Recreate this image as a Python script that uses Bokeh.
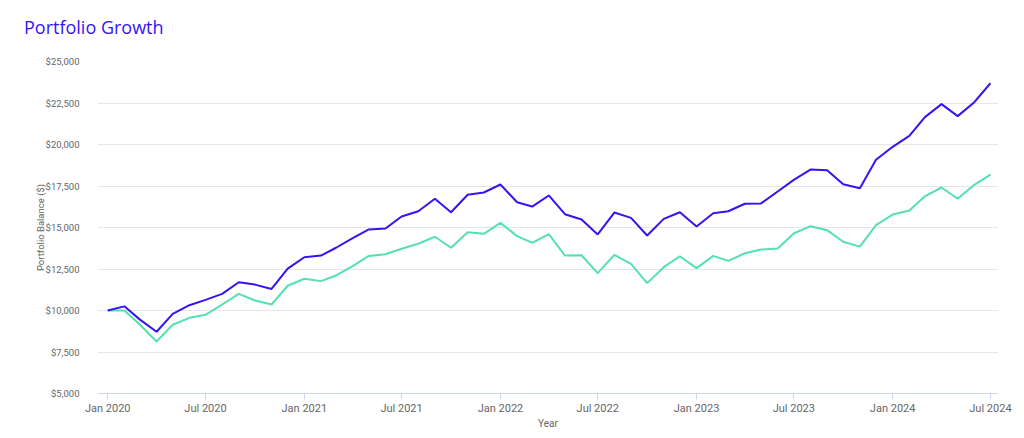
import pandas as pd
from bokeh.plotting import figure
from bokeh.layouts import column
from bokeh.models import (ColumnDataSource, NumeralTickFormatter, DatetimeTickFormatter,
                          MonthsTicker, Range1d, SingleIntervalTicker, Div)
from bokeh.embed import file_html
from bokeh.resources import INLINE

months = pd.date_range("2020-01-01", periods=55, freq="MS")

portfolio_1 = [10000, 10250, 9450, 8720, 9800, 10320, 10640, 11000, 11700, 11560,
               11300, 12520, 13210, 13310, 13780, 14360, 14880, 14940, 15660, 15980,
               16730, 15920, 16970, 17110, 17590, 16520, 16260, 16930, 15800, 15480,
               14580, 15900, 15580, 14520, 15520, 15920, 15060, 15860, 15980, 16430,
               16450, 17170, 17870, 18490, 18450, 17610, 17370, 19080, 19860, 20520,
               21650, 22430, 21710, 22550, 23690]

portfolio_2 = [10000, 10000, 9140, 8130, 9140, 9560, 9740, 10360, 11000, 10600,
               10360, 11490, 11910, 11770, 12110, 12670, 13290, 13390, 13720, 14020,
               14440, 13780, 14720, 14620, 15280, 14480, 14080, 14600, 13310, 13330,
               12250, 13350, 12810, 11650, 12610, 13270, 12550, 13290, 12990, 13450,
               13670, 13730, 14640, 15080, 14840, 14140, 13850, 15140, 15780, 16020,
               16880, 17410, 16730, 17570, 18190]

y_ticks = [5000, 7500, 10000, 12500, 15000, 17500, 20000, 22500, 25000]

src = ColumnDataSource(dict(month=months, p1=portfolio_1, p2=portfolio_2))

header = Div(
    text='<div style="margin:0;padding:15px 0 0 24px;font-family:\'Open Sans\';'
         'font-size:18px;line-height:24px;color:#3414f2;white-space:nowrap;">'
         'Portfolio Growth</div>',
    width=1024, height=40, margin=0)

p = figure(width=1024, height=398, output_backend="svg", toolbar_location=None,
           title=None, x_axis_type="datetime", margin=0,
           x_range=Range1d(pd.Timestamp("2019-12-13"), pd.Timestamp("2024-07-16")),
           y_range=Range1d(y_ticks[0], y_ticks[-1]),
           min_border_left=97, min_border_right=26, min_border_top=21, min_border_bottom=45)

p.line("month", "p2", source=src, line_color="#55e0b0", line_width=2)
p.line("month", "p1", source=src, line_color="#3414f2", line_width=2)

p.outline_line_color = None
p.background_fill_color = "white"
p.border_fill_color = "white"

p.xgrid.grid_line_color = None
p.ygrid.grid_line_color = "#e6e6e6"
p.ygrid.grid_line_width = 1

p.yaxis.ticker = SingleIntervalTicker(interval=2500)
p.yaxis.formatter = NumeralTickFormatter(format="$0,0")
p.yaxis.axis_line_color = None
p.yaxis.major_tick_line_color = None
p.yaxis.minor_tick_line_color = None
p.yaxis.major_label_standoff = 12
p.yaxis.axis_label = "Portfolio Balance ($)"
p.yaxis.axis_label_standoff = -3

p.xaxis.ticker = MonthsTicker(months=[0, 6])
p.xaxis.formatter = DatetimeTickFormatter(months="%b %Y", years="%b %Y", days="%b %Y")
p.xaxis.axis_line_color = "#ccd6eb"
p.xaxis.major_tick_line_color = "#ccd6eb"
p.xaxis.major_tick_in = 0
p.xaxis.major_tick_out = 6
p.xaxis.minor_tick_line_color = None
p.xaxis.major_label_standoff = 2
p.xaxis.axis_label = "Year"
p.xaxis.axis_label_standoff = 0

for ax in (p.xaxis, p.yaxis):
    ax.major_label_text_font = "Roboto"
    ax.major_label_text_color = "#666666"
    ax.axis_label_text_font = "Roboto"
    ax.axis_label_text_font_style = "normal"
    ax.axis_label_text_color = "#666666"

p.xaxis.major_label_text_font_size = "11px"
p.xaxis.axis_label_text_font_size = "10px"
p.yaxis.major_label_text_font_size = "9.5px"
p.yaxis.axis_label_text_font_size = "9.5px"

layout = column(header, p, spacing=0, margin=0)

open("out.html", "w").write(file_html(layout, INLINE))
